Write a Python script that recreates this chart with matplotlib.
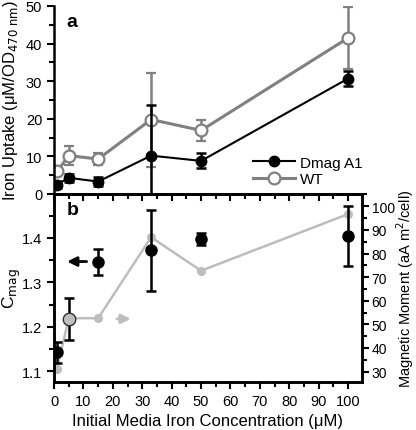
"""Iron uptake and magnetic properties vs initial media iron concentration."""

import matplotlib
matplotlib.use("Agg")
import matplotlib.pyplot as plt
from matplotlib.lines import Line2D
from matplotlib.ticker import MultipleLocator

plt.rcParams['font.family'] = ['Liberation Sans', 'DejaVu Sans']

# panel a: iron uptake
conc = [1, 5, 15, 33, 50, 100]
dmag_uptake = [2.5, 4.3, 3.3, 10.2, 8.8, 30.7]
dmag_uptake_err = [1.0, 1.0, 1.3, 13.4, 2.0, 2.1]
wt_uptake = [6.0, 10.2, 9.3, 19.8, 16.9, 41.5]
wt_uptake_err = [1.0, 2.6, 1.5, 12.5, 2.7, 8.2]

# panel b: Cmag (left axis) and magnetic moment (right axis)
cmag = [1.143, 1.218, 1.346, 1.372, 1.398, 1.404]
cmag_err = [0.024, 0.047, 0.030, 0.092, 0.013, 0.067]
moment = [31.1, 52.6, 52.6, 86.9, 72.7, 96.7]

BLACK = 'black'
GRAY = '#808080'
LIGHT = '#bdbdbd'

fig = plt.figure(figsize=(4.16, 4.31), dpi=100)
ax_a = fig.add_axes([0.130, 0.5476, 0.740, 0.4362])
ax_b = fig.add_axes([0.130, 0.1114, 0.740, 0.4362])
ax_r = ax_b.twinx()

# ---- panel a ----
ax_a.errorbar(conc, wt_uptake, yerr=wt_uptake_err, color=GRAY, lw=2.2,
              marker='o', ms=8.5, mfc='white', mec=GRAY, mew=1.6,
              elinewidth=1.8, capsize=3.5, capthick=1.8, zorder=2)
ax_a.errorbar(conc, dmag_uptake, yerr=dmag_uptake_err, color=BLACK, lw=1.5,
              marker='o', ms=7.5, mfc=BLACK, mec=BLACK,
              elinewidth=1.8, capsize=3.5, capthick=1.8, zorder=3)
ax_a.set_xlim(0, 104.7)
ax_a.set_ylim(0, 50)
ax_a.yaxis.set_major_locator(MultipleLocator(10))
ax_a.yaxis.set_minor_locator(MultipleLocator(5))
ax_a.xaxis.set_major_locator(MultipleLocator(10))
ax_a.xaxis.set_minor_locator(MultipleLocator(5))
# ticks on the shared boundary point down into panel b
ax_a.tick_params(axis='x', which='both', bottom=True, labelbottom=False,
                 direction='out')
ax_a.spines['top'].set_visible(False)
ax_a.spines['right'].set_visible(False)
ax_a.set_ylabel('Iron Uptake (μM/OD$_{470\\ \\mathrm{nm}}$)', fontsize=12,
                labelpad=4)
ax_a.text(0.04, 0.965, 'a', transform=ax_a.transAxes, fontsize=14,
          fontweight='bold', va='top')
legend_handles = [
    Line2D([], [], color=BLACK, lw=1.5, marker='o', ms=7.5),
    Line2D([], [], color=GRAY, lw=2.2, marker='o', ms=8.5, mfc='white',
           mec=GRAY, mew=1.6),
]
ax_a.legend(legend_handles, ['Dmag A1', 'WT'], loc='lower left',
            bbox_to_anchor=(0.6, -0.03), frameon=False, fontsize=11,
            handlelength=2.8, handletextpad=0.3, labelspacing=0.15)

# ---- panel b ----
ax_b.errorbar(conc, cmag, yerr=cmag_err, color=BLACK, ls='none',
              marker='o', ms=8, elinewidth=1.8, capsize=3.5,
              capthick=1.8, zorder=3)
ax_r.plot(conc, moment, color=LIGHT, lw=1.8, marker='o', ms=5.5,
          mec=LIGHT, zorder=2)
# the overlapping point at 5 µM shows as a grey disc with a dark rim
ax_b.plot(conc[1], cmag[1], marker='o', ms=9, mfc=LIGHT, mec='#333333',
          mew=1.0, ls='none', zorder=5)
ax_b.set_zorder(ax_r.get_zorder() + 1)
ax_b.patch.set_visible(False)

ax_b.annotate('', xy=(3.5, 1.347), xytext=(12, 1.347),
              arrowprops=dict(arrowstyle='-|>', color=BLACK, lw=2,
                              mutation_scale=14))
ax_b.annotate('', xy=(27, 1.218), xytext=(20.5, 1.218),
              arrowprops=dict(arrowstyle='-|>', color=LIGHT, lw=2,
                              mutation_scale=14))

ax_b.set_xlim(0, 104.7)
ax_b.set_ylim(1.076, 1.499)
ax_r.set_ylim(25.6, 105.2)
ax_b.xaxis.set_major_locator(MultipleLocator(10))
ax_b.xaxis.set_minor_locator(MultipleLocator(5))
ax_b.yaxis.set_major_locator(MultipleLocator(0.1))
ax_b.yaxis.set_minor_locator(MultipleLocator(0.05))
ax_r.yaxis.set_major_locator(MultipleLocator(10))
ax_r.yaxis.set_minor_locator(MultipleLocator(5))
ax_b.set_ylabel('C$_{\\mathrm{mag}}$', fontsize=12.5)
ax_b.yaxis.set_label_coords(-0.1, 0.5)
ax_r.set_ylabel('Magnetic Moment (aA m$^{2}$/cell)', fontsize=10.5)
ax_r.yaxis.set_label_coords(1.104, 0.5)
ax_b.set_xlabel('Initial Media Iron Concentration (μM)', fontsize=12)
ax_b.text(0.04, 0.965, 'b', transform=ax_b.transAxes, fontsize=14,
          fontweight='bold', va='top')

for ax in (ax_a, ax_b, ax_r):
    for sp in ax.spines.values():
        sp.set_linewidth(1.8)
    ax.tick_params(which='major', length=5, width=1.5, labelsize=10.5)
    ax.tick_params(which='minor', length=3.5, width=1.5)
ax_r.tick_params(which='major', labelsize=10, pad=2)

fig.savefig('out.png', dpi=100)
